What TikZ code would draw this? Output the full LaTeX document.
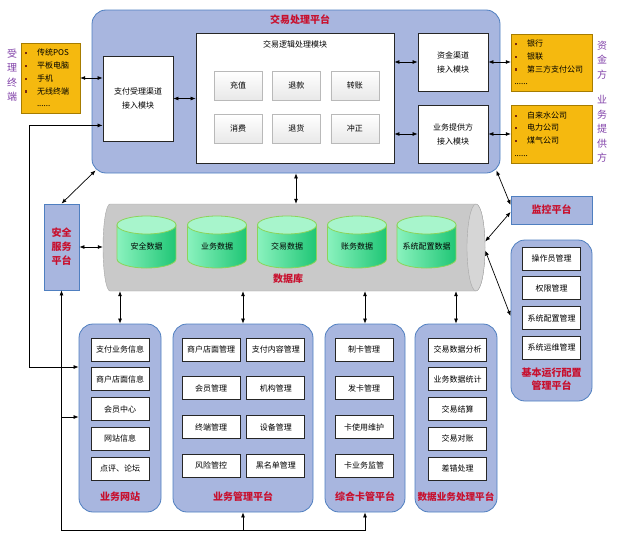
\documentclass[tikz,border=0pt]{standalone}
\usepackage{fontspec}
\setmainfont{Noto Sans CJK SC}
\usetikzlibrary{positioning,arrows.meta}
\definecolor{pffill}{HTML}{A8B6DF}
\definecolor{pfline}{HTML}{4F7FC0}
\definecolor{yfill}{HTML}{F5B90F}
\definecolor{yline}{HTML}{A67C00}
\definecolor{bulred}{HTML}{7A2A10}
\definecolor{ttlred}{HTML}{C8102E}
\definecolor{sidevio}{HTML}{8040A8}
\definecolor{dbbody}{HTML}{C9C9C9}
\definecolor{dbend}{HTML}{D6D6D6}
\definecolor{dbline}{HTML}{A6A6A6}
\definecolor{cyllight}{HTML}{8AF2BE}
\definecolor{cyldark}{HTML}{1FC675}
\definecolor{cylend}{HTML}{A8F5CC}
\definecolor{cylline}{HTML}{8CD45A}
\newcommand{\ybul}{\makebox[12.5pt][l]{\textcolor{bulred}{\rule[1.5pt]{2.2pt}{2.2pt}}}}

\begin{document}
\begin{tikzpicture}[
   x=1pt, y=-1pt,
   node distance=6pt,
   platform/.style={draw=pfline, fill=pffill, rounded corners=14pt, line width=0.8pt},
   panel/.style={draw=pfline, fill=pffill, line width=0.8pt, text=ttlred, align=center,
                 font=\fontsize{10}{14}\selectfont\bfseries},
   module/.style={draw=black!85, fill=white, align=center, line width=0.8pt,
                  font=\fontsize{8}{14}\selectfont},
   btn/.style={draw=gray!55, top color=white, bottom color=gray!18, minimum width=48pt,
               minimum height=29pt, font=\fontsize{8}{10}\selectfont},
   item/.style={draw=black!85, fill=white, minimum width=58pt, minimum height=23pt,
                inner sep=1pt, line width=0.8pt, font=\fontsize{8}{10}\selectfont},
   ybox/.style={draw=yline, fill=yfill, align=left, inner sep=3pt,
                font=\fontsize{8}{12.7}\selectfont},
   ttl/.style={text=ttlred, align=center, font=\fontsize{10}{13}\selectfont\bfseries},
   vlabel/.style={text=sidevio, align=center, font=\fontsize{10}{14.5}\selectfont},
   cylbody/.style={left color=cyllight, right color=cyldark, draw=cylline, line width=0.8pt},
   cylcap/.style={fill=cylend, draw=cylline, line width=0.8pt},
   link/.style={{Latex[length=5pt,width=4pt]}-{Latex[length=5pt,width=4pt]}, line width=0.7pt},
   feed/.style={-{Latex[length=5pt,width=4pt]}, line width=0.7pt}]
  \useasboundingbox (0,0) rectangle (621,538);

  % trading platform
  \node[platform, minimum width=408pt, minimum height=163pt] (tpp) at (296,91.5) {};
  \node[ttl] (tppt) at (300,20) {交易处理平台};
  \node[module, minimum width=70pt, minimum height=85pt] (pay) at (138,98.5) {支付受理渠道\\接入模块};
  \node[module, minimum width=198pt, minimum height=130pt] (logic) at (295,98) {};
  \node[font=\fontsize{8}{10}\selectfont] (logict) at (295,44) {交易逻辑处理模块};
  \node[btn] (b1) at (238,85.5) {充值};
  \node[btn, right=10pt of b1] (b2) {退款};
  \node[btn, right=10pt of b2] (b3) {转账};
  \node[btn, below=14pt of b1] (b4) {消费};
  \node[btn, right=10pt of b4] (b5) {退货};
  \node[btn, right=10pt of b5] (b6) {冲正};
  \node[module, minimum width=70pt, minimum height=58pt] (fund) at (453,62) {资金渠道\\接入模块};
  \node[module, minimum width=70pt, minimum height=58pt] (svc) at (453,134) {业务提供方\\接入模块};

  % terminals and partners
  \node[ybox, minimum width=59pt, minimum height=70pt, text width=52pt] (term) at (50.5,78)
    {\ybul 传统POS\\ \ybul 平板电脑\\ \ybul 手机\\ \ybul 无线终端\\ \hspace*{12.5pt}......};
  \node[ybox, minimum width=81pt, minimum height=57pt, text width=74pt] (bank) at (551.5,62.5)
    {\ybul 银行\\ \ybul 银联\\ \ybul 第三方支付公司\\ ......};
  \node[ybox, minimum width=81pt, minimum height=58pt, text width=74pt] (util) at (551.5,134)
    {\ybul 自来水公司\\ \ybul 电力公司\\ \ybul 煤气公司\\ ......};
  \node[vlabel] (terml) at (12,75) {受\\理\\终\\端};
  \node[vlabel] (bankl) at (602,60) {资\\金\\方};
  \node[vlabel] (utill) at (602,129) {业\\务\\提\\供\\方};

  % database
  \node[panel, minimum width=35pt, minimum height=86pt] (sec) at (61.5,247) {安全\\服务\\平台};
  \node[minimum width=382pt, minimum height=87pt, inner sep=0pt] (db) at (294,247.5) {};
  \filldraw[fill=dbbody, draw=dbline] (110,204) -- (476,204)
    arc[start angle=-90, end angle=90, x radius=9, y radius=43.5] -- (110,291)
    arc[start angle=90, end angle=270, x radius=7, y radius=43.5] -- cycle;
  \filldraw[fill=dbend, draw=dbline] (476,247.5) ellipse[x radius=9, y radius=43.5];
  \foreach \cx/\txt [count=\i] in {146.5/安全数据, 217/业务数据, 287/交易数据,
                                   357/账务数据, 426.5/系统配置数据} {
    \path[cylbody] (\cx-29.5,225) -- (\cx-29.5,259)
      arc[start angle=180, end angle=0, x radius=29.5, y radius=9] -- (\cx+29.5,225) -- cycle;
    \path[cylcap] (\cx,225) ellipse[x radius=29.5, y radius=9];
    \node[font=\fontsize{8}{10}\selectfont] (cyl\i) at (\cx,246) {\txt};
  }
  \node[ttl] (dbt) at (288,279) {数据库};

  % monitoring and configuration
  \node[panel, minimum width=81pt, minimum height=28pt] (mon) at (551.5,210) {监控平台};
  \node[platform, minimum width=81pt, minimum height=161pt] (ops) at (551.5,320.5) {};
  \node[item] (o1) at (551.5,258.5) {操作员管理};
  \node[item, below=of o1] (o2) {权限管理};
  \node[item, below=of o2] (o3) {系统配置管理};
  \node[item, below=of o3] (o4) {系统运维管理};
  \node[ttl] (opst) at (551.5,379) {基本运行配置\\管理平台};

  % business platforms
  \node[platform, minimum width=82pt, minimum height=188pt] (web) at (120,418) {};
  \node[item] (w1) at (120,349.5) {支付业务信息};
  \node[item, below=of w1] (w2) {商户店面信息};
  \node[item, below=of w2] (w3) {会员中心};
  \node[item, below=of w3] (w4) {网站信息};
  \node[item, below=of w4] (w5) {点评、论坛};
  \node[ttl] (webt) at (120,497) {业务网站};

  \node[platform, minimum width=140pt, minimum height=188pt] (mgmt) at (243,418) {};
  \node[item] (m1) at (211,349.5) {商户店面管理};
  \node[item, right=of m1] (m2) {支付内容管理};
  \node[item, below=15pt of m1] (m3) {会员管理};
  \node[item, right=of m3] (m4) {机构管理};
  \node[item, below=15pt of m3] (m5) {终端管理};
  \node[item, right=of m5] (m6) {设备管理};
  \node[item, below=15pt of m5] (m7) {风险管控};
  \node[item, right=of m7] (m8) {黑名单管理};
  \node[ttl] (mgmtt) at (243,497) {业务管理平台};

  \node[platform, minimum width=80pt, minimum height=188pt] (card) at (365,418) {};
  \node[item] (k1) at (364,349.5) {制卡管理};
  \node[item, below=15pt of k1] (k2) {发卡管理};
  \node[item, below=15pt of k2] (k3) {卡使用维护};
  \node[item, below=15pt of k3] (k4) {卡业务监管};
  \node[ttl] (cardt) at (365,497) {综合卡管平台};

  \node[platform, minimum width=82pt, minimum height=188pt] (data) at (456,418) {};
  \node[item] (d1) at (457.5,349.5) {交易数据分析};
  \node[item, below=of d1] (d2) {业务数据统计};
  \node[item, below=of d2] (d3) {交易结算};
  \node[item, below=of d3] (d4) {交易对账};
  \node[item, below=of d4] (d5) {差错处理};
  \node[ttl, font=\fontsize{9.6}{12}\selectfont\bfseries] (datat) at (456,497) {数据业务处理平台};

  % connectors
  \draw[link] (term.east) -- (term.east -| pay.west);
  \draw[link] (pay.east) -- (pay.east -| logic.west);
  \draw[link] (logic.east |- fund.west) -- (fund.west);
  \draw[link] (logic.east |- svc.west) -- (svc.west);
  \draw[link] (fund.east) -- (fund.east -| bank.west);
  \draw[link] (svc.east) -- (svc.east -| util.west);
  \draw[link] (tpp.south) -- (tpp.south |- db.north);
  \draw[link] ([xshift=4pt,yshift=3pt]tpp.south west) -- (sec.north);
  \draw[link] ([xshift=-4pt,yshift=3pt]tpp.south east) -- ([yshift=5pt]mon.west);
  \draw[link] (sec.east) -- (sec.east -| db.west);
  \draw[link] ([yshift=6pt]db.east) -- ([yshift=-2pt]mon.west);
  \draw[link] ([yshift=-3pt]db.east) -- ([yshift=4.5pt]ops.west);
  \draw[link] (db.south -| web.north) -- (web.north);
  \draw[link] (db.south -| mgmt.north) -- (mgmt.north);
  \draw[link] (db.south -| card.north) -- (card.north);
  \draw[link] (db.south -| data.north) -- (data.north);

  \coordinate (loopc) at (29,367);
  \draw[link] ([yshift=16pt]pay.south west) -| (loopc) -- (loopc -| web.west);
  \coordinate (busc) at (62,530);
  \coordinate (webin) at (62,417);
  \draw[link] (sec.south) -- (sec.south |- busc) -| (card.south);
  \draw[feed] (mgmt.south |- busc) -- (mgmt.south);
  \draw[feed] (sec.south |- webin) -- (webin -| web.west);
\end{tikzpicture}
\end{document}
